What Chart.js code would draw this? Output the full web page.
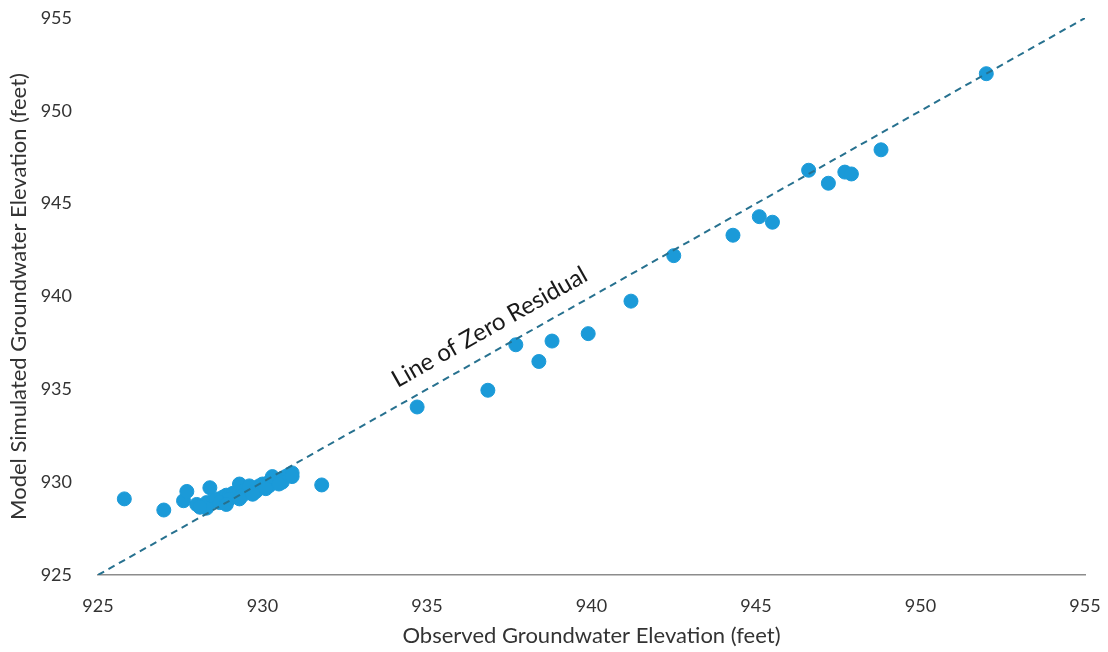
<!DOCTYPE html>
<html>
<head>
<meta charset="utf-8">
<script src="https://cdn.jsdelivr.net/npm/chart.js@4.4.1/dist/chart.umd.min.js"></script>
<style>
  html, body { margin: 0; padding: 0; background: #fff; }
  #wrap { width: 1108px; height: 652px; }
</style>
</head>
<body>
<div id="wrap"><canvas id="myChart" width="1108" height="652"></canvas></div>
<script>
const observed = [
  925.8, 927.0, 927.6, 927.7, 928.0, 928.2, 928.3, 928.4, 928.5, 928.6,
  928.8, 928.9, 929.0, 929.1, 929.2, 929.3, 929.3, 929.4, 929.5, 929.6,
  929.7, 929.8, 929.9, 930.0, 930.1, 930.2, 930.3, 930.4, 930.5, 930.6,
  930.7, 930.8, 930.9, 928.3, 928.7, 929.0, 929.4, 929.8, 930.2, 930.6,
  930.9, 929.6, 930.3, 928.1, 928.9, 929.3, 929.7, 930.1, 930.5,
  931.8, 934.7, 936.85, 937.7, 938.4, 938.8, 939.9,
  941.2, 942.5, 944.3, 945.1, 945.5, 946.6, 947.2, 947.7, 947.9, 948.8,
  952.0
];
const simulated = [
  929.1, 928.5, 929.0, 929.5, 928.8, 928.7, 928.9, 929.7, 929.0, 929.1,
  929.2, 929.3, 929.3, 929.4, 929.4, 929.9, 929.5, 929.5, 929.6, 929.6,
  929.6, 929.7, 929.8, 929.9, 929.9, 930.0, 930.0, 930.1, 930.1, 930.2,
  930.3, 930.4, 930.5, 928.6, 928.9, 929.1, 929.3, 929.5, 929.8, 930.0,
  930.3, 929.8, 930.3, 928.65, 928.8, 929.1, 929.35, 929.65, 929.9,
  929.85, 934.05, 934.95, 937.4, 936.5, 937.6, 938.0,
  939.75, 942.2, 943.3, 944.3, 944.0, 946.8, 946.1, 946.7, 946.6, 947.9,
  952.0
];
const zeroLine = [925, 955];
const axisTicks = [925, 930, 935, 940, 945, 950, 955];
const annotationText = 'Line of Zero Residual';
const annotationAt = { x: 936.9, y: 938.35 };

const points = observed.map((v, i) => ({ x: v, y: simulated[i] }));

const labelPlugin = {
  id: 'zeroLabel',
  afterDatasetsDraw(chart) {
    const { ctx, scales } = chart;
    const x = scales.x, y = scales.y;
    const px = x.getPixelForValue(annotationAt.x);
    const py = y.getPixelForValue(annotationAt.y);
    const ang = Math.atan2(y.getPixelForValue(955) - y.getPixelForValue(925),
                           x.getPixelForValue(955) - x.getPixelForValue(925));
    ctx.save();
    ctx.translate(px, py);
    ctx.rotate(ang);
    ctx.font = '24px Lato';
    ctx.fillStyle = '#1a1a1a';
    ctx.textAlign = 'center';
    ctx.textBaseline = 'middle';
    ctx.fillText(annotationText, 0, 0);
    ctx.restore();
  }
};

const config = {
  type: 'scatter',
  data: {
    datasets: [{
      label: 'Zero residual',
      type: 'line',
      data: zeroLine.map(v => ({ x: v, y: v })),
      borderColor: '#27718f',
      borderWidth: 2,
      borderDash: [7, 5],
      pointRadius: 0,
      fill: false
    }, {
      label: 'Wells',
      data: points,
      backgroundColor: '#1b9ad8',
      borderColor: '#1b9ad8',
      pointRadius: 7,
      pointHoverRadius: 7
    }]
  },
  options: {
    responsive: false,
    animation: false,
    layout: { padding: { left: 0, right: 23, top: 18, bottom: 0 } },
    scales: {
      x: {
        type: 'linear',
        min: 925,
        max: 955,
        afterBuildTicks: axis => { axis.ticks = axisTicks.map(v => ({ value: v })); },
        afterFit: axis => { axis.height = 77; axis.paddingLeft = 0; axis.paddingRight = 0; },
        grid: { display: false },
        border: { display: true, color: '#8c8c8c', width: 1.5 },
        ticks: { color: '#333', font: { family: 'Lato', size: 18 }, padding: 12 },
        title: {
          display: true,
          text: 'Observed Groundwater Elevation (feet)',
          color: '#333',
          font: { family: 'Lato', size: 22 },
          padding: { top: 7, bottom: 3 }
        }
      },
      y: {
        type: 'linear',
        min: 925,
        max: 955,
        afterBuildTicks: axis => { axis.ticks = axisTicks.map(v => ({ value: v })); },
        afterFit: axis => { axis.width = 98; axis.paddingTop = 0; axis.paddingBottom = 0; },
        grid: { display: false },
        border: { display: false },
        ticks: { color: '#333', font: { family: 'Lato', size: 18 }, padding: 18 },
        title: {
          display: true,
          text: 'Model Simulated Groundwater Elevation (feet)',
          color: '#333',
          font: { family: 'Lato', size: 22 },
          padding: { top: 6, bottom: 0 }
        }
      }
    },
    plugins: {
      legend: { display: false },
      tooltip: { enabled: false }
    }
  },
  plugins: [labelPlugin]
};

function buildChart() {
  const ctx = document.getElementById('myChart').getContext('2d');
  return new Chart(ctx, config);
}

window.addEventListener('load', () => {
  const myChart = buildChart();
});
</script>
</body>
</html>
